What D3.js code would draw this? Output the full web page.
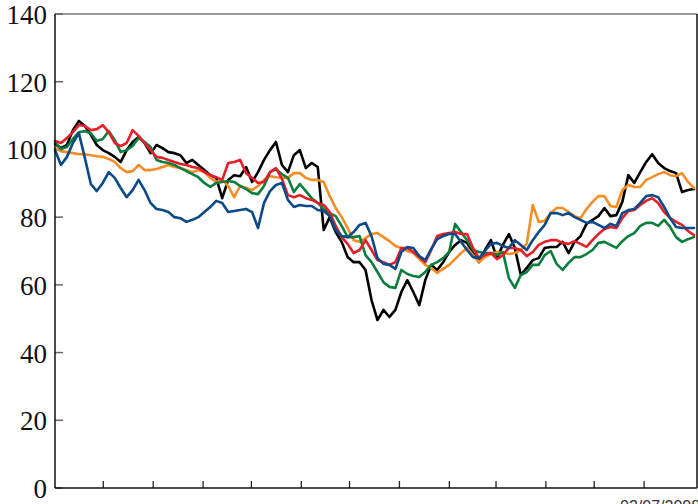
<!DOCTYPE html>
<html>
<head>
<meta charset="utf-8">
<script src="https://cdn.jsdelivr.net/npm/d3@7"></script>
<style>
  html, body { margin: 0; padding: 0; background: #fff; overflow: hidden; }
  svg { display: block; }
</style>
</head>
<body>
<svg id="chart" width="698" height="504"></svg>
<script>
// Rebased price series (start = 100), sampled evenly from 01/06/2007 to 02/07/2008
const startDate = new Date(2007, 5, 1);
const endDate = new Date(2008, 6, 2);
const endLabel = "02/07/2008";

const yTicks = [0, 20, 40, 60, 80, 100, 120, 140];

const blackSeries = [101.6,100.4,101.3,105.7,108.4,106.9,104.3,101.3,99.8,98.9,97.8,96.3,99.8,102.2,103.7,101.9,98.9,101.3,100.4,99.2,98.9,98.3,96.0,96.9,95.4,93.9,92.4,91.6,85.6,91.0,92.4,92.1,94.8,90.4,93.3,96.9,99.8,102.2,95.4,93.3,98.3,99.8,94.5,96.0,94.8,76.2,80.0,75.6,72.7,68.2,66.7,66.7,64.4,55.5,49.6,52.6,50.5,52.6,57.9,61.4,57.9,54.0,61.4,65.9,64.4,66.7,69.7,71.8,73.2,72.4,69.4,66.7,70.3,73.2,67.9,71.8,75.0,70.9,62.9,65.0,67.3,67.9,70.9,71.2,71.2,72.7,69.4,72.7,74.4,78.0,79.2,80.3,82.7,80.3,80.6,84.5,92.4,90.1,93.3,96.3,98.6,96.0,94.5,93.6,93.0,87.4,88.0,88.3];

const orangeSeries = [100.4,99.5,99.2,98.9,98.6,98.6,98.3,98.0,97.8,97.2,96.3,94.5,93.3,93.6,95.4,93.9,93.9,94.2,94.8,95.4,94.8,94.5,93.9,93.3,93.9,93.3,91.6,90.4,91.0,89.2,85.9,89.2,88.6,88.0,89.2,91.0,92.1,91.8,91.6,91.6,93.0,93.0,91.6,91.0,91.0,90.4,86.2,82.7,80.0,76.8,73.2,72.7,73.8,75.0,75.3,74.1,72.9,71.5,70.9,70.0,69.4,67.6,65.9,65.0,63.5,64.7,65.9,67.6,69.4,70.9,68.8,66.7,68.2,69.1,69.7,69.4,69.1,69.4,70.3,72.1,83.6,78.6,78.9,81.2,82.7,82.7,81.5,80.3,79.7,82.4,84.5,86.2,86.2,83.3,83.0,88.0,89.5,88.9,88.9,91.0,91.8,92.7,93.3,92.4,92.1,93.0,90.4,88.6];

const redSeries = [102.5,101.9,103.4,105.1,107.2,106.9,105.7,106.0,107.2,105.1,101.9,101.0,101.9,105.7,104.0,101.9,99.8,97.8,97.5,96.9,96.3,95.7,95.4,94.8,94.5,93.3,92.4,91.8,91.0,96.0,96.3,96.9,93.0,91.6,90.1,90.4,93.3,94.5,91.3,86.5,85.9,86.5,85.6,85.1,84.2,83.6,81.5,77.4,74.1,72.1,69.4,70.3,73.2,70.3,67.3,66.7,65.9,66.7,70.9,70.9,69.7,68.2,66.7,70.3,74.4,75.0,75.3,75.6,75.0,75.0,70.9,67.9,68.8,69.4,67.6,68.8,70.9,70.9,70.3,68.5,69.7,71.8,72.7,73.2,73.2,72.4,72.1,72.9,72.1,71.2,73.2,75.0,76.5,77.1,76.8,79.7,81.8,82.1,83.6,84.8,85.6,84.2,81.5,79.7,78.6,77.7,75.9,74.7];

const greenSeries = [102.2,100.1,100.7,103.1,105.1,105.4,104.8,102.5,103.1,105.4,102.8,99.2,99.8,101.0,103.4,102.2,100.7,96.9,96.3,96.0,95.4,94.5,93.6,92.7,91.8,90.1,88.9,90.1,90.4,90.7,90.4,89.2,88.3,87.1,86.8,89.2,93.3,94.2,92.7,91.6,87.4,89.8,87.7,85.6,84.2,82.4,81.2,80.3,77.4,74.1,74.1,74.4,68.8,66.7,63.8,60.8,59.4,59.1,64.4,63.2,62.6,62.3,63.8,65.9,66.7,67.9,69.7,78.0,75.6,73.2,70.3,69.7,69.4,69.4,68.8,69.7,62.0,59.1,62.9,63.8,65.9,65.9,68.8,70.0,66.2,64.4,66.5,68.2,68.2,69.1,70.3,72.4,72.7,71.8,70.9,72.9,74.4,75.3,77.4,78.3,78.3,77.4,79.2,77.1,74.1,72.7,73.5,74.1];

const blueSeries = [99.8,95.4,97.8,101.9,104.8,97.5,89.8,87.7,90.1,93.3,91.6,88.6,85.9,88.0,91.0,88.0,84.2,82.4,82.1,81.5,80.0,79.7,78.6,79.2,80.0,81.5,83.0,84.8,84.2,81.5,81.8,82.1,82.4,81.5,76.8,84.2,87.7,89.5,90.1,85.1,83.0,83.6,83.3,83.3,82.1,81.8,80.3,76.2,74.4,74.1,75.6,77.7,78.3,74.4,67.9,66.2,65.9,64.7,69.7,71.2,70.9,68.5,67.3,70.6,73.5,74.4,75.0,75.0,72.7,70.3,68.2,67.9,70.0,72.1,72.4,71.5,70.9,73.2,71.8,70.3,73.2,75.6,77.7,81.2,81.2,80.6,81.2,80.0,79.2,78.3,78.6,77.7,76.8,78.0,77.4,81.2,82.1,82.4,84.2,86.2,86.5,85.9,83.0,79.7,77.1,76.8,76.8,76.8];

const seriesList = [
  { name: "black",  color: "#000000", values: blackSeries },
  { name: "orange", color: "#f68d24", values: orangeSeries },
  { name: "green",  color: "#0a7e3c", values: greenSeries },
  { name: "red",    color: "#e61e2a", values: redSeries },
  { name: "blue",   color: "#0a4a88", values: blueSeries }
];

const svg = d3.select("#chart");
const plotLeft = 55, plotRight = 697, plotTop = 14, plotBottom = 488;

const nPts = blackSeries.length;
const step = (endDate - startDate) / (nPts - 1);
const dates = d3.range(nPts).map(i => new Date(+startDate + i * step));

const x = d3.scaleTime().domain([startDate, endDate]).range([plotLeft, 694]);
const y = d3.scaleLinear().domain([0, 140]).range([plotBottom, plotTop]);

// frame
svg.append("line").attr("x1", plotLeft).attr("x2", plotRight).attr("y1", plotTop).attr("y2", plotTop)
  .attr("stroke", "#777").attr("stroke-width", 1.5);
svg.append("line").attr("x1", plotRight).attr("x2", plotRight).attr("y1", plotTop).attr("y2", plotBottom)
  .attr("stroke", "#111").attr("stroke-width", 1.5);

// y axis: inward ticks, serif labels
const yAxis = svg.append("g").attr("transform", `translate(${plotLeft},0)`);
yAxis.selectAll("line.tick").data(yTicks).join("line")
  .attr("class", "tick")
  .attr("x1", 0).attr("x2", 8)
  .attr("y1", d => y(d)).attr("y2", d => y(d))
  .attr("stroke", "#666").attr("stroke-width", 1.5);
yAxis.selectAll("text").data(yTicks).join("text")
  .attr("x", -8).attr("y", d => y(d) + 10)
  .attr("text-anchor", "end")
  .attr("font-family", "'Liberation Serif', 'Times New Roman', serif")
  .attr("font-size", 27)
  .attr("fill", "#111")
  .text(d => d);

// x axis: monthly inward ticks
const monthTicks = d3.timeMonth.range(new Date(2007, 6, 1), new Date(2008, 6, 1));
svg.selectAll("line.xtick").data(monthTicks).join("line")
  .attr("class", "xtick")
  .attr("x1", d => x(d)).attr("x2", d => x(d))
  .attr("y1", plotBottom).attr("y2", plotBottom - 7)
  .attr("stroke", "#222").attr("stroke-width", 1.3);

// series lines
const line = d3.line()
  .x((d, i) => x(dates[i]))
  .y(d => y(d));

svg.append("g").selectAll("path").data(seriesList).join("path")
  .attr("d", s => line(s.values))
  .attr("fill", "none")
  .attr("stroke", s => s.color)
  .attr("stroke-width", 2.6)
  .attr("stroke-linejoin", "round")
  .attr("stroke-linecap", "round");

// axis lines on top
svg.append("line").attr("x1", plotLeft).attr("x2", plotLeft).attr("y1", plotTop).attr("y2", plotBottom)
  .attr("stroke", "#111").attr("stroke-width", 1.5);
svg.append("line").attr("x1", plotLeft).attr("x2", plotRight).attr("y1", plotBottom).attr("y2", plotBottom)
  .attr("stroke", "#111").attr("stroke-width", 1.5);

// end date label
svg.append("text")
  .attr("x", 620).attr("y", 512)
  .attr("font-family", "'Liberation Sans', Arial, sans-serif")
  .attr("font-size", 16)
  .attr("fill", "#333")
  .text(endLabel);
</script>
</body>
</html>
